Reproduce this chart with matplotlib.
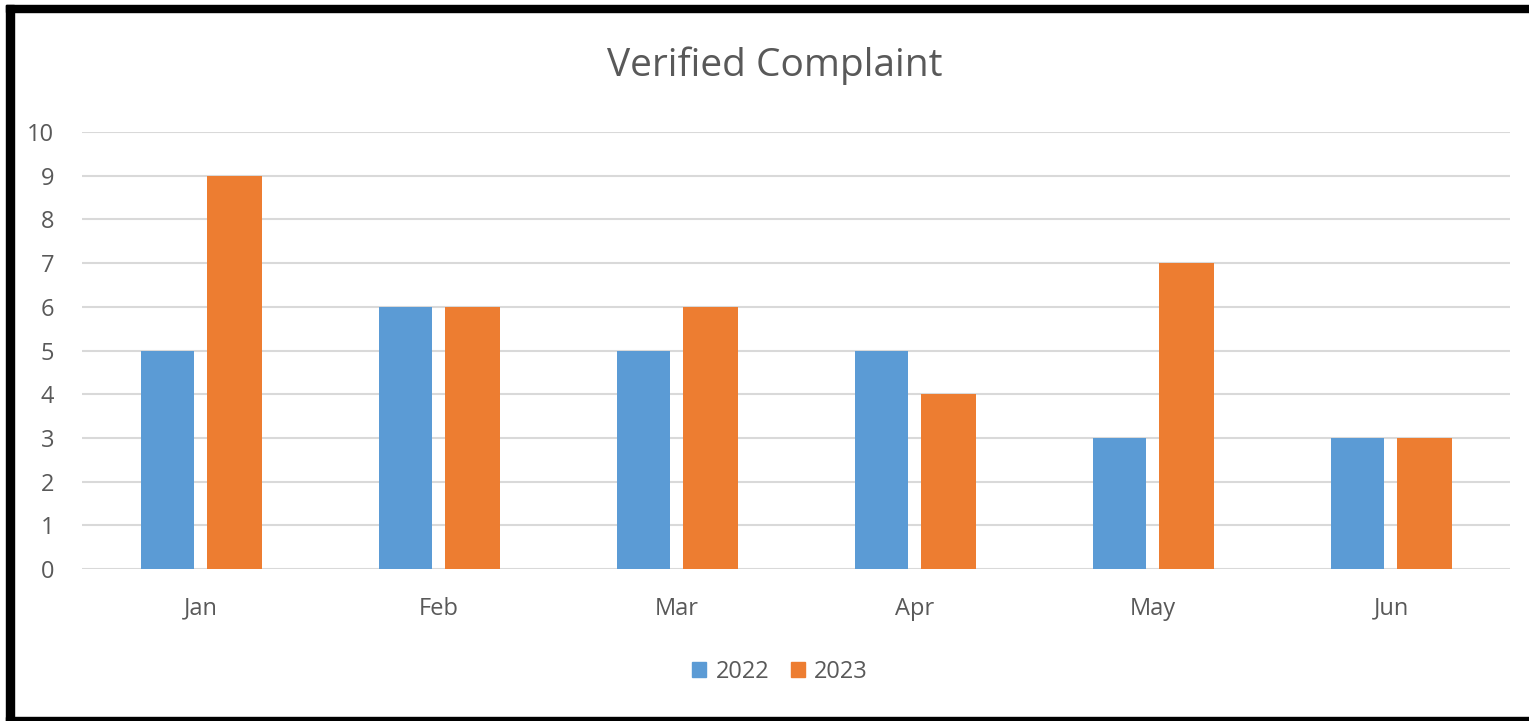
import numpy as np
import matplotlib.pyplot as plt
from matplotlib.patches import Rectangle, Patch

# monthly verified complaints
months = ['Jan', 'Feb', 'Mar', 'Apr', 'May', 'Jun']
y2022 = [5, 6, 5, 5, 3, 3]
y2023 = [9, 6, 6, 4, 7, 3]

blue = '#5B9BD5'
orange = '#ED7D31'
txt = '#595959'

plt.rcParams['font.family'] = ['Open Sans', 'DejaVu Sans']

fig = plt.figure(figsize=(15.29, 7.21), dpi=100)
ax = fig.add_axes([82/1529, 1-569/721, (1510-82)/1529, (569-132)/721])

x = np.arange(len(months))
ax.bar(x - 0.142, y2022, width=0.222, color=blue, zorder=3)
ax.bar(x + 0.142, y2023, width=0.23, color=orange, zorder=3)

ax.set_xlim(-0.5, 5.5)
ax.set_ylim(0, 10)
ax.set_yticks(range(0, 11))
ax.set_xticks(x)
ax.set_xticklabels(months)
ax.grid(axis='y', color='#D9D9D9', linewidth=1.5, zorder=0)
for s in ax.spines.values():
    s.set_visible(False)
ax.tick_params(axis='both', length=0, labelsize=17, colors=txt)
ax.tick_params(axis='y', pad=20)
ax.tick_params(axis='x', pad=20)

fig.text(775/1529, 1-66/721, 'Verified Complaint', ha='center', va='center',
         fontsize=28, color=txt)

handles = [Patch(color=blue, label='2022'), Patch(color=orange, label='2023')]
leg = fig.legend(handles=handles, loc='center', bbox_to_anchor=(780/1529, 1-672/721),
                 ncol=2, frameon=False, fontsize=17, handlelength=0.6, handleheight=0.6,
                 handletextpad=0.4, columnspacing=0.9)
for t in leg.get_texts():
    t.set_color(txt)

# black frame around the picture (left, top, bottom)
W, H = 1529, 721
fig.patches.append(Rectangle((6/W, 0), 8/W, 1-5/H, transform=fig.transFigure, color='black'))
fig.patches.append(Rectangle((6/W, 1-12/H), 1, 7/H, transform=fig.transFigure, color='black'))
fig.patches.append(Rectangle((6/W, 0), 1, 4/H, transform=fig.transFigure, color='black'))

fig.savefig('out.png', dpi=100)
